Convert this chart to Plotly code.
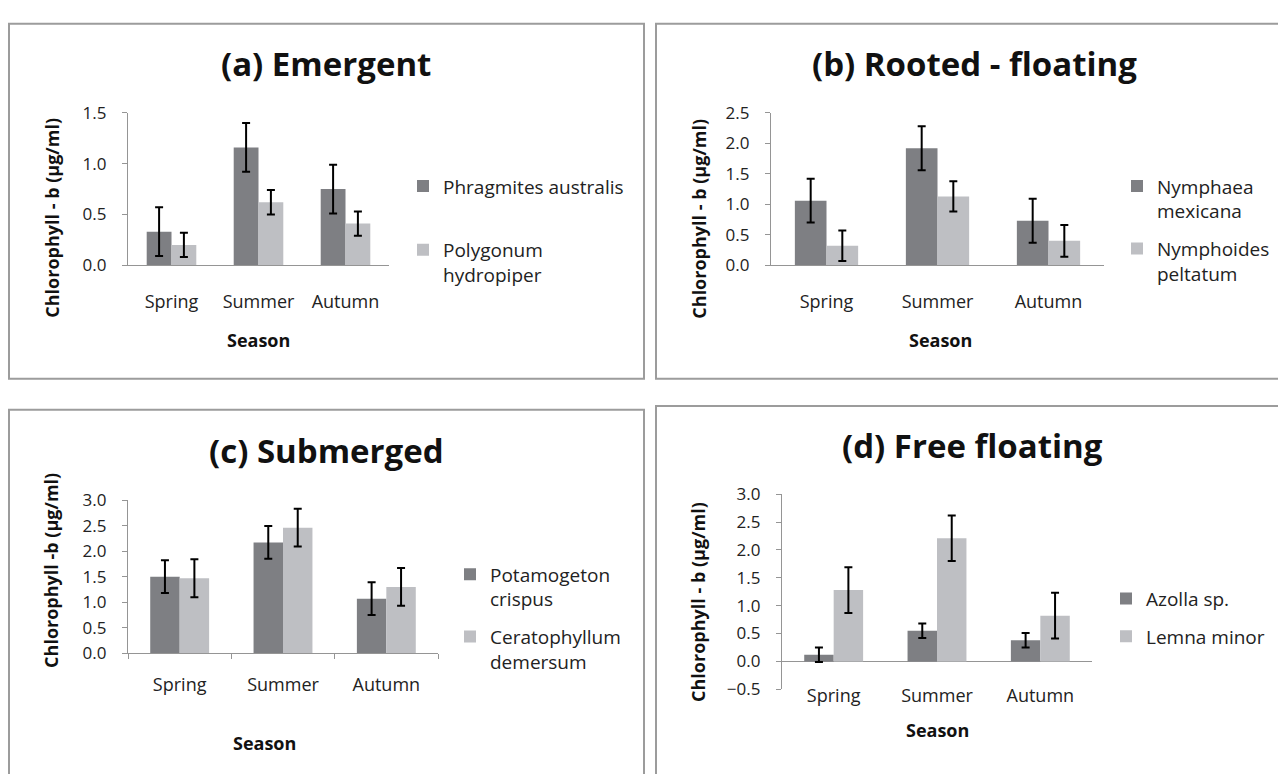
import plotly.graph_objects as go

W, H = 1278, 774

seasons = ["Spring", "Summer", "Autumn"]

# (a) Emergent
a_names = ["Phragmites australis", "Polygonum<br>hydropiper"]
a_vals1 = [0.33, 1.16, 0.75]
a_err1 = [0.24, 0.24, 0.24]
a_vals2 = [0.20, 0.62, 0.41]
a_err2 = [0.12, 0.12, 0.12]

# (b) Rooted - floating
b_names = ["Nymphaea<br>mexicana", "Nymphoides<br>peltatum"]
b_vals1 = [1.06, 1.92, 0.73]
b_err1 = [0.36, 0.36, 0.36]
b_vals2 = [0.32, 1.13, 0.40]
b_err2 = [0.25, 0.25, 0.26]

# (c) Submerged
c_names = ["Potamogeton<br>crispus", "Ceratophyllum<br>demersum"]
c_vals1 = [1.50, 2.17, 1.07]
c_err1 = [0.32, 0.32, 0.32]
c_vals2 = [1.47, 2.46, 1.30]
c_err2 = [0.37, 0.37, 0.37]

# (d) Free floating
d_names = ["Azolla sp.", "Lemna minor"]
d_vals1 = [0.12, 0.55, 0.38]
d_err1 = [0.13, 0.13, 0.13]
d_vals2 = [1.28, 2.21, 0.82]
d_err2 = [0.41, 0.41, 0.41]

DARK = "#7e7f83"
LIGHT = "#bebfc3"
AXC = "#959595"
FONT = "Open Sans"


def px(x):
    return x / W


def py(y):
    return 1 - y / H


fig = go.Figure()

panels = [
    ("", a_names, (a_vals1, a_vals2), (a_err1, a_err2), (128, 389), (104, 261), (0, 1.5), (403, 160), 36),
    ("2", b_names, (b_vals1, b_vals2), (b_err1, b_err2), (771, 1104), (104, 261), (0, 2.5), (1117, 160), 10),
    ("3", c_names, (c_vals1, c_vals2), (c_err1, c_err2), (128, 438), (503, 661), (0, 3.0), (450, 560), 10),
    ("4", d_names, (d_vals1, d_vals2), (d_err1, d_err2), (782, 1092), (497, 698), (-0.5, 3.0), (1106, 585), 10),
]

layout = dict(
    width=W, height=H, margin=dict(l=0, r=0, t=0, b=0),
    paper_bgcolor="white", plot_bgcolor="white",
    barmode="group", bargap=0.43, bargroupgap=0,
    font=dict(family=FONT, color="#222222"),
    showlegend=True,
)

for i, (suf, names, vals, errs, xd, yd, yr, lp, tgg) in enumerate(panels):
    xa = "x" + suf
    ya = "y" + suf
    lg = "legend" + suf
    for j, (nm, v, e, col) in enumerate(zip(names, vals, errs, (DARK, LIGHT))):
        fig.add_trace(go.Bar(
            x=seasons, y=v, name=nm, marker=dict(color=col, line=dict(width=0)),
            error_y=dict(type="data", array=e, visible=True, color="black", thickness=2, width=4),
            xaxis=xa, yaxis=ya, legend=lg, legendgroup=f"g{i}{j}",
        ))
    xkey = "xaxis" + suf
    ykey = "yaxis" + suf
    xconf = dict(
        domain=[px(xd[0]), px(xd[1])], anchor=ya,
        showline=True, linecolor=AXC, linewidth=1.2,
        showgrid=False, zeroline=False,
        tickfont=dict(size=18, family=FONT, color="#222222"),
        ticks="", ticklabelstandoff=20,
    )
    if suf == "3":
        xconf.update(ticks="outside", tickson="boundaries", ticklen=5, tickcolor=AXC, ticklabelstandoff=15)
    if suf == "4":
        xconf.update(showline=False, ticklabelstandoff=-6)
    yconf = dict(
        domain=[py(yd[1]), py(yd[0])], anchor=xa, range=list(yr), dtick=0.5,
        tickformat=".1f", showline=True, linecolor=AXC, linewidth=1.2,
        showgrid=False, zeroline=False,
        ticks="outside", ticklen=5, tickcolor=AXC,
        tickfont=dict(size=17, family=FONT, color="#222222"),
        ticklabelstandoff=12,
    )
    if suf == "4":
        yconf.update(zeroline=True, zerolinecolor=AXC, zerolinewidth=1.2)
    layout[xkey] = xconf
    layout[ykey] = yconf
    layout[lg] = dict(
        x=px(lp[0]), y=py(lp[1]), xanchor="left", yanchor="top",
        font=dict(size=19, family=FONT, color="#222222"),
        valign="top", tracegroupgap=tgg, bgcolor="rgba(0,0,0,0)",
        itemclick=False,
    )

fig.update_layout(**layout)

# Panel borders
boxes = [(9, 12, 644, 378), (656, 12, 1290, 378), (9, 410, 644, 790), (656, 406, 1290, 790)]
for x0, y0, x1, y1 in boxes:
    fig.add_shape(type="rect", xref="paper", yref="paper",
                  x0=px(x0), y0=py(y1), x1=px(x1), y1=py(y0),
                  line=dict(color="#9c9c9c", width=2), fillcolor="rgba(0,0,0,0)", layer="below")

# Titles
titles = [("(a) Emergent", 326, 53), ("(b) Rooted - floating", 974, 53),
          ("(c) Submerged", 326, 452), ("(d) Free floating", 972, 447)]
for t, x, y in titles:
    fig.add_annotation(text=f"<b>{t}</b>", x=px(x), y=py(y), xref="paper", yref="paper",
                       showarrow=False, xanchor="center", yanchor="middle",
                       font=dict(size=33, family=FONT, color="#111111"))

# Y axis titles
ytitles = [("Chlorophyll - b (µg/ml)", 52, 212), ("Chlorophyll - b (µg/ml)", 699, 213),
           ("Chlorophyll -b (µg/ml)", 51, 576), ("Chlorophyll - b (µg/ml)", 698, 608)]
for t, x, y in ytitles:
    fig.add_annotation(text=f"<b>{t}</b>", x=px(x), y=py(y), xref="paper", yref="paper",
                       showarrow=False, xanchor="center", yanchor="middle", textangle=-90,
                       font=dict(size=18, family=FONT, color="#111111"))

# X axis titles
xtitles = [("Season", 258, 338), ("Season", 940, 338), ("Season", 264, 753), ("Season", 937, 740)]
for t, x, y in xtitles:
    fig.add_annotation(text=f"<b>{t}</b>", x=px(x), y=py(y), xref="paper", yref="paper",
                       showarrow=False, xanchor="center", yanchor="middle",
                       font=dict(size=18, family=FONT, color="#111111"))

fig.write_html(
    "out.html",
    config={"displayModeBar": False},
    post_script="document.body.style.margin='0px';document.body.style.overflow='hidden';",
)
